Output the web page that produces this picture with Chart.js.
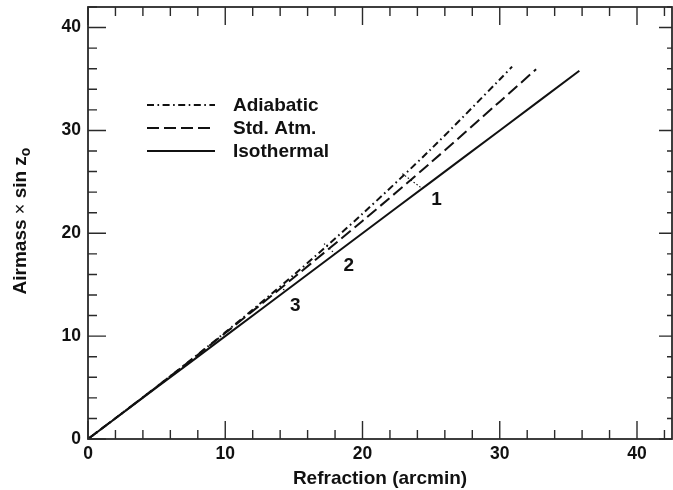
<!DOCTYPE html>
<html>
<head>
<meta charset="utf-8">
<script src="https://cdn.jsdelivr.net/npm/chart.js@4"></script>
<style>
  html, body { margin: 0; padding: 0; background: #fff; }
  #c { display: block; }
</style>
</head>
<body>
<canvas id="c" width="673" height="490"></canvas>
<script>
// ---- data ----
const seriesNames = ['Adiabatic', 'Std. Atm.', 'Isothermal'];

const adiX = [0, 5, 10, 15, 20, 25, 30, 30.9];
const adiY = [0, 5.07, 10.37, 15.96, 21.9, 28.2, 34.95, 36.2];

const stdX = [0, 5, 10, 15, 20, 25, 30, 32.65];
const stdY = [0, 5.08, 10.3, 15.7, 21.2, 26.9, 32.8, 35.95];

const isoX = [0, 5, 10, 15, 20, 25, 30, 35.8];
const isoY = [0, 5, 10, 15, 20, 25, 30, 35.8];

// dotted tie lines joining the curves at the numbered points
const tie1X = [22.9, 24.35], tie1Y = [25.8, 24.35];
const tie2X = [17.2, 18.0],  tie2Y = [19.0, 18.0];
const tie3X = [14.0, 14.4],  tie3Y = [14.75, 14.4];

const markerText = ['1', '2', '3'];
const markerX = [25.4, 19.0, 15.1];
const markerY = [23.3, 16.8, 13.0];

const xMajorTicks = [0, 10, 20, 30, 40];
const yMajorTicks = [0, 10, 20, 30, 40];
const minorStep = 2;
const xMin = 0, xMax = 42.55, yMin = 0, yMax = 42;

const xTitle = 'Refraction (arcmin)';
const yTitleParts = ['Airmass ', '\u00d7', ' sin z', 'o'];

// ---- helpers ----
const pts = (xs, ys) => xs.map((x, i) => ({ x: x, y: ys[i] }));
const FONT = "'Liberation Sans', Arial, Helvetica, sans-serif";
const INK = '#111';

const styles = {
  'Adiabatic': [7, 3.5, 1.6, 3.5],
  'Std. Atm.': [12, 5],
  'Isothermal': []
};

const datasets = [
  { label: seriesNames[0], data: pts(adiX, adiY), borderDash: styles['Adiabatic'] },
  { label: seriesNames[1], data: pts(stdX, stdY), borderDash: styles['Std. Atm.'] },
  { label: seriesNames[2], data: pts(isoX, isoY), borderDash: styles['Isothermal'] },
  { label: 'tie1', data: pts(tie1X, tie1Y), borderDash: [1.5, 2], borderWidth: 1.1 },
  { label: 'tie2', data: pts(tie2X, tie2Y), borderDash: [1.5, 2], borderWidth: 1.1 },
  { label: 'tie3', data: pts(tie3X, tie3Y), borderDash: [1.5, 2], borderWidth: 1.1 }
].map(d => Object.assign({
  borderColor: INK, borderWidth: 2, pointRadius: 0, tension: 0.3, fill: false
}, d));

const decorPlugin = {
  id: 'decor',
  afterDatasetsDraw(chart) {
    const ctx = chart.ctx;
    const a = chart.chartArea;
    const xs = chart.scales.x, ys = chart.scales.y;
    ctx.save();
    // frame
    ctx.strokeStyle = '#2a2a2a';
    ctx.lineWidth = 1.8;
    ctx.strokeRect(a.left, a.top, a.right - a.left, a.bottom - a.top);
    // ticks (inward, mirrored)
    ctx.lineWidth = 1.4;
    ctx.beginPath();
    for (let v = xMin; v <= xMax + 1e-9; v += minorStep) {
      const major = xMajorTicks.includes(v);
      const px = xs.getPixelForValue(v);
      const L = major ? 18 : 9;
      ctx.moveTo(px, a.bottom); ctx.lineTo(px, a.bottom - L);
      ctx.moveTo(px, a.top); ctx.lineTo(px, a.top + L);
    }
    for (let v = yMin; v <= yMax + 1e-9; v += minorStep) {
      const major = yMajorTicks.includes(v);
      const py = ys.getPixelForValue(v);
      ctx.moveTo(a.left, py); ctx.lineTo(a.left + (major ? 18 : 9), py);
      ctx.moveTo(a.right, py); ctx.lineTo(a.right - (major ? 13 : 5), py);
    }
    ctx.stroke();

    // legend
    const rows = [105, 128, 151];
    ctx.font = 'bold 19px ' + FONT;
    ctx.textBaseline = 'middle';
    ctx.textAlign = 'left';
    ctx.fillStyle = INK;
    seriesNames.forEach((name, i) => {
      ctx.beginPath();
      ctx.setLineDash(styles[name]);
      ctx.lineWidth = 2;
      ctx.strokeStyle = INK;
      ctx.moveTo(147, rows[i]); ctx.lineTo(215, rows[i]);
      ctx.stroke();
      ctx.setLineDash([]);
      ctx.fillText(name, 233, rows[i] + 1);
    });

    // numbered markers
    ctx.textAlign = 'center';
    markerText.forEach((t, i) => {
      ctx.fillText(t, xs.getPixelForValue(markerX[i]), ys.getPixelForValue(markerY[i]));
    });

    // y title with subscript
    ctx.translate(21, 221);
    ctx.rotate(-Math.PI / 2);
    const fBold = 'bold 19px ' + FONT, fNorm = '18px ' + FONT, fSub = 'bold 14px ' + FONT;
    const fonts = [fBold, fNorm, fBold, fSub];
    let total = 0;
    const widths = yTitleParts.map((p, i) => { ctx.font = fonts[i]; const w = ctx.measureText(p).width; total += w; return w; });
    let cx = -total / 2;
    ctx.textAlign = 'left';
    ctx.textBaseline = 'middle';
    yTitleParts.forEach((p, i) => {
      ctx.font = fonts[i];
      ctx.fillText(p, cx, i === 3 ? 5 : 0);
      cx += widths[i];
    });
    ctx.restore();
  }
};

new Chart(document.getElementById('c'), {
  type: 'line',
  data: { datasets: datasets },
  options: {
    responsive: false,
    animation: false,
    devicePixelRatio: 1,
    layout: { padding: { left: 0, top: 7, right: 1, bottom: 0 } },
    plugins: { legend: { display: false }, tooltip: { enabled: false } },
    scales: {
      x: {
        type: 'linear', min: xMin, max: xMax,
        grid: { display: false, drawTicks: false },
        border: { display: false },
        afterBuildTicks: s => { s.ticks = xMajorTicks.map(v => ({ value: v })); },
        afterFit: s => { s.height = 51; s.paddingLeft = 0; s.paddingRight = 0; },
        ticks: { color: INK, font: { family: FONT, size: 17.5, weight: 'bold' }, padding: 5, maxRotation: 0, autoSkip: false },
        title: { display: true, text: xTitle, color: INK, font: { family: FONT, size: 19, weight: 'bold' }, padding: { top: 0, bottom: 0 } }
      },
      y: {
        type: 'linear', min: yMin, max: yMax,
        grid: { display: false, drawTicks: false },
        border: { display: false },
        afterBuildTicks: s => { s.ticks = yMajorTicks.map(v => ({ value: v })); },
        afterFit: s => { s.width = 88; s.paddingTop = 0; s.paddingBottom = 0; },
        ticks: { color: INK, font: { family: FONT, size: 17.5, weight: 'bold' }, padding: 7, autoSkip: false },
        title: { display: false }
      }
    }
  },
  plugins: [decorPlugin]
});
</script>
</body>
</html>
